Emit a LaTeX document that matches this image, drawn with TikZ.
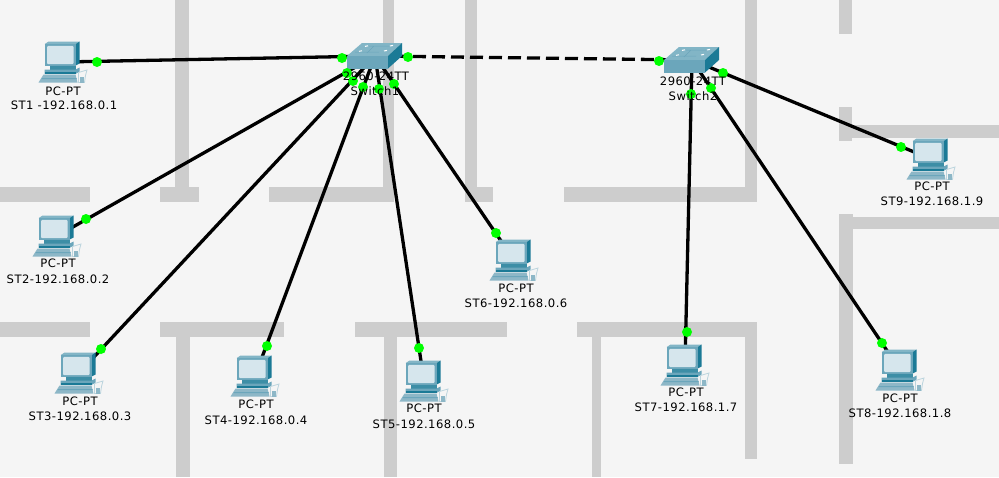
\documentclass[tikz,border=0pt]{standalone}
\usepackage{fontspec}
\setmainfont[LetterSpace=4]{DejaVu Sans}
\definecolor{bgc}{HTML}{F5F5F5}
\definecolor{wallc}{HTML}{CDCDCD}
\definecolor{frontc}{HTML}{6BA6BB}
\definecolor{sidec}{HTML}{1B7A96}
\definecolor{topc}{HTML}{82B5C6}
\definecolor{screenc}{HTML}{D6E6ED}
\definecolor{keyc}{HTML}{8DB7C7}
\definecolor{linkdot}{HTML}{00FF00}
\tikzset{
  x=1pt,y=-1pt,
  wall/.style={fill=wallc,draw=none},
  dev/.style={inner sep=0pt,outer sep=0pt,minimum width=49pt,minimum height=41pt},
  swdev/.style={inner sep=0pt,outer sep=0pt,minimum width=55pt,minimum height=25pt},
  link/.style={line width=3.3pt,black},
  xover/.style={link,dash pattern=on 13pt off 6pt},
  linkpt/.style={circle,fill=linkdot,draw=none,inner sep=0pt,minimum size=10pt},
  lab/.style={font=\fontsize{11.6}{13}\selectfont,text=black,anchor=base,inner sep=0pt},
  pcicon/.pic={
    \begin{scope}[shift={(-24.5,-20.5)}]
      \fill[topc] (6,2.7) -- (10,0) -- (41,0) -- (37,2.7) -- cycle;
      \fill[sidec] (37,2.7) -- (41,0) -- (41,22) -- (37,24) -- cycle;
      \fill[frontc] (6,2.7) rectangle (37,24);
      \fill[screenc,rounded corners=1pt] (8.7,4.3) rectangle (35,22.7);
      \fill[sidec!85!white] (11,24) rectangle (37,28);
      \fill[frontc] (6,28) -- (37,28) -- (41,26) -- (41,30) -- (37,32.5) -- (6,32.5) -- cycle;
      \fill[sidec] (6,30.6) rectangle (37,32.5);
      \fill[keyc] (5,33) -- (37,33) -- (39,41) -- (0,41) -- cycle;
      \fill[frontc] (3.5,36.5) -- (38,36.5) -- (38.3,37.5) -- (3,37.5) -- cycle;
      \draw[keyc!60!white,line width=.8pt,fill=bgc] (40,31) -- (48.5,28.5) -- (47,34) -- (46,41) -- (40,41) -- cycle;
      \fill[keyc] (41.5,35) rectangle (45,41);
    \end{scope}
  },
  swicon/.pic={
    \begin{scope}[shift={(-28,-13)}]
      \fill[topc] (0,13) -- (15,0) -- (55,0) -- (41,13) -- cycle;
      \fill[frontc] (0,13) rectangle (41,25.5);
      \fill[sidec] (41,13) -- (55,0) -- (55,13) -- (41,25.5) -- cycle;
      \draw[white,line width=1pt] (18,3.4) -- (21,2.8) (43,3) -- (46,2.4) (12,8.4) -- (15,7.8) (37,8) -- (40,7.4);
      \draw[frontc,line width=.5pt] (8,9) -- (32,9) (22,3) -- (42,3) (27,3) -- (20,10);
    \end{scope}
  }
}
\begin{document}
\begin{tikzpicture}
\useasboundingbox (0,0) rectangle (999,477);
\fill[bgc] (0,0) rectangle (999,477);
% walls
\fill[wall] (175,0) rectangle (189,187);
\fill[wall] (383,0) rectangle (394,187);
\fill[wall] (465,0) rectangle (477,187);
\fill[wall] (745,0) rectangle (757,187);
\fill[wall] (0,187) rectangle (90,202);
\fill[wall] (160,187) rectangle (199,202);
\fill[wall] (269,187) rectangle (394,202);
\fill[wall] (465,187) rectangle (493,202);
\fill[wall] (564,187) rectangle (757,202);
\fill[wall] (0,322) rectangle (90,337);
\fill[wall] (160,322) rectangle (284,337);
\fill[wall] (355,322) rectangle (507,337);
\fill[wall] (577,322) rectangle (757,337);
\fill[wall] (175.5,337) rectangle (190,477);
\fill[wall] (384,337) rectangle (397,477);
\fill[wall] (592,337) rectangle (601,477);
\fill[wall] (745,337) rectangle (757,459);
\fill[wall] (839,0) rectangle (852,34);
\fill[wall] (839,107) rectangle (852,141);
\fill[wall] (852,125) rectangle (999,138);
\fill[wall] (839,214) rectangle (853,464);
\fill[wall] (853,217) rectangle (999,229);
% devices
\node[swdev] (s1) at (375,56) {};
\node[swdev] (s2) at (692,60) {};
\node[dev] (st1) at (63,62) {};
\node[dev] (st2) at (57,236) {};
\node[dev] (st3) at (79,373) {};
\node[dev] (st4) at (255,376) {};
\node[dev] (st5) at (424,381) {};
\node[dev] (st6) at (514,260) {};
\node[dev] (st7) at (685,365) {};
\node[dev] (st8) at (900,370) {};
\node[dev] (st9) at (931,159) {};
% links
\draw[link] (s1.center) -- (st1.center);
\draw[link] (s1.center) -- (st2.center);
\draw[link] (s1.center) -- (st3.center);
\draw[link] (s1.center) -- (st4.center);
\draw[link] (s1.center) -- (st5.center);
\draw[link] (s1.center) -- (st6.center);
\draw[xover] (s1.center) -- (s2.center);
\draw[link] (s2.center) -- (st7.center);
\draw[link] (s2.center) -- (st8.center);
\draw[link] (s2.center) -- (st9.center);
% icons
\pic at (s1.center) {swicon};
\pic at (s2.center) {swicon};
\foreach \n in {st1,st2,st3,st4,st5,st6,st7,st8,st9} {\pic at (\n.center) {pcicon};}
% link points
\node[linkpt] (p1) at (97,62) {};
\node[linkpt] (p2) at (86,219) {};
\node[linkpt] (p3) at (101,349) {};
\node[linkpt] (p4) at (267,346) {};
\node[linkpt] (p5) at (419,348) {};
\node[linkpt] (p6) at (496,233) {};
\node[linkpt] (p7) at (687,332) {};
\node[linkpt] (p8) at (882,343) {};
\node[linkpt] (p9) at (901,147) {};
\node[linkpt] (q1) at (342,58) {};
\node[linkpt] (q2) at (347,73) {};
\node[linkpt] (q3) at (353,81) {};
\node[linkpt] (q4) at (363,87) {};
\node[linkpt] (q5) at (379,89) {};
\node[linkpt] (q6) at (394,84) {};
\node[linkpt] (q7) at (408,57) {};
\node[linkpt] (r1) at (659,61) {};
\node[linkpt] (r2) at (691,94) {};
\node[linkpt] (r3) at (711,88) {};
\node[linkpt] (r4) at (723,73) {};
% labels
\node[lab] (l1a) at (63,95) {PC-PT};
\node[lab] (l1b) at (64,109) {ST1 -192.168.0.1};
\node[lab] (l2a) at (58,267) {PC-PT};
\node[lab] (l2b) at (58,283) {ST2-192.168.0.2};
\node[lab] (l3a) at (80,405) {PC-PT};
\node[lab] (l3b) at (80,420) {ST3-192.168.0.3};
\node[lab] (l4a) at (256,408) {PC-PT};
\node[lab] (l4b) at (256,424) {ST4-192.168.0.4};
\node[lab] (l5a) at (424,412) {PC-PT};
\node[lab] (l5b) at (424,428) {ST5-192.168.0.5};
\node[lab] (l6a) at (516,292) {PC-PT};
\node[lab] (l6b) at (516,307) {ST6-192.168.0.6};
\node[lab] (l7a) at (686,396) {PC-PT};
\node[lab] (l7b) at (686,411) {ST7-192.168.1.7};
\node[lab] (l8a) at (900,402) {PC-PT};
\node[lab] (l8b) at (900,417) {ST8-192.168.1.8};
\node[lab] (l9a) at (932,190) {PC-PT};
\node[lab] (l9b) at (932,205) {ST9-192.168.1.9};
\node[lab] (s1a) at (376,80) {2960-24TT};
\node[lab] (s1b) at (375,95) {Switch1};
\node[lab] (s2a) at (693,85) {2960-24TT};
\node[lab] (s2b) at (693,100) {Switch2};
\end{tikzpicture}
\end{document}
